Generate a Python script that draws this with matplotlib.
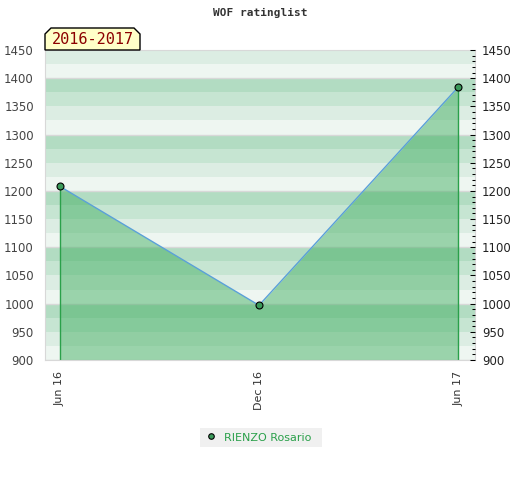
import matplotlib
matplotlib.use('Agg')
import matplotlib.pyplot as plt
from matplotlib.patches import Polygon
from matplotlib.ticker import MultipleLocator

# data
months = ['Jun 16', 'Dec 16', 'Jun 17']
ratings = [1208, 997, 1384]
player = 'RIENZO Rosario'
period = '2016-2017'
band_colors = ['#eef6f1', '#dcede3', '#c6e5d2', '#b2dcc2']

fig = plt.figure(figsize=(5.2, 4.8), dpi=100)
ax = fig.add_axes([45/520, 120/480, 430/520, 310/480])

ymin, ymax = 900, 1450
ax.set_ylim(ymin, ymax)
ax.set_xlim(-0.075, 2.085)

# striped background
y = ymin
i = 0
while y < ymax:
    ax.axhspan(y, y + 25, color=band_colors[i % 4], lw=0, zorder=0)
    y += 25
    i += 1
for g in range(ymin, ymax + 1, 100):
    ax.axhline(g, color='#d8d8d8', lw=1, zorder=0.5)

x = list(range(len(ratings)))
ax.fill_between(x, ratings, ymin, color=(63/255, 173/255, 95/255), alpha=0.48, lw=0, zorder=1)
ax.plot(x, ratings, color='#5aa0d8', lw=1, zorder=2)
ax.vlines([x[0], x[-1]], ymin, [ratings[0], ratings[-1]], color='#2aa04a', lw=1, zorder=2)
ax.plot(x, ratings, ls='none', marker='o', ms=5, mfc='#3a9a5a', mec='black', mew=0.8, zorder=3)

for s in ax.spines.values():
    s.set_color('#d8d8d8')

ax.set_xticks(x)
ax.set_xticklabels(months, rotation=90, fontsize=8, color='#333333')
ax.tick_params(axis='x', length=0, pad=8)

ax.yaxis.set_major_locator(MultipleLocator(50))
ax.tick_params(axis='y', length=0, labelsize=8.5, labelcolor='#444444', pad=8)

ax2 = ax.twinx()
ax2.set_ylim(ymin, ymax)
ax2.yaxis.set_major_locator(MultipleLocator(50))
ax2.yaxis.set_minor_locator(MultipleLocator(10))
ax2.tick_params(axis='y', which='major', direction='in', length=3.5, width=0.75, color='black',
                labelsize=8.5, labelcolor='#222222', pad=5)
ax2.tick_params(axis='y', which='minor', direction='in', length=2.2, width=0.75, color='black')
for s in ax2.spines.values():
    s.set_visible(False)

fig.text(260/520, 1 - 13/480, 'WOF ratinglist', ha='center', va='center',
         family='DejaVu Sans Mono', fontweight='bold', fontsize=8, color='#333333')

# period label box
x0, x1 = 45/520, 140/520
y0, y1 = 1 - 50/480, 1 - 28/480
c = 6/520
cy = 6/480
box = Polygon([(x0, y0), (x0, y1 - cy), (x0 + c, y1), (x1 - c, y1), (x1, y1 - cy), (x1, y0)],
              closed=True, transform=fig.transFigure, facecolor='#ffffc8', edgecolor='black', lw=1)
fig.patches.append(box)
fig.text((x0 + x1) / 2, (y0 + y1) / 2 - 1/480, period, ha='center', va='center',
         family='DejaVu Sans Mono', fontsize=11, color='#8b0000')

# legend
leg_ax = fig.add_axes([200/520, 1 - 447/480, 122/520, 19/480])
leg_ax.set_facecolor('#f0f0f0')
leg_ax.set_xticks([])
leg_ax.set_yticks([])
for s in leg_ax.spines.values():
    s.set_visible(False)
leg_ax.set_xlim(0, 1)
leg_ax.set_ylim(0, 1)
leg_ax.plot([0.09], [0.6], ls='none', marker='o', ms=4, mfc='#3a9a5a', mec='black', mew=0.8)
leg_ax.text(0.2, 0.45, player, ha='left', va='center', fontsize=8, color='#2aa04a')

fig.savefig('out.png', dpi=100)
